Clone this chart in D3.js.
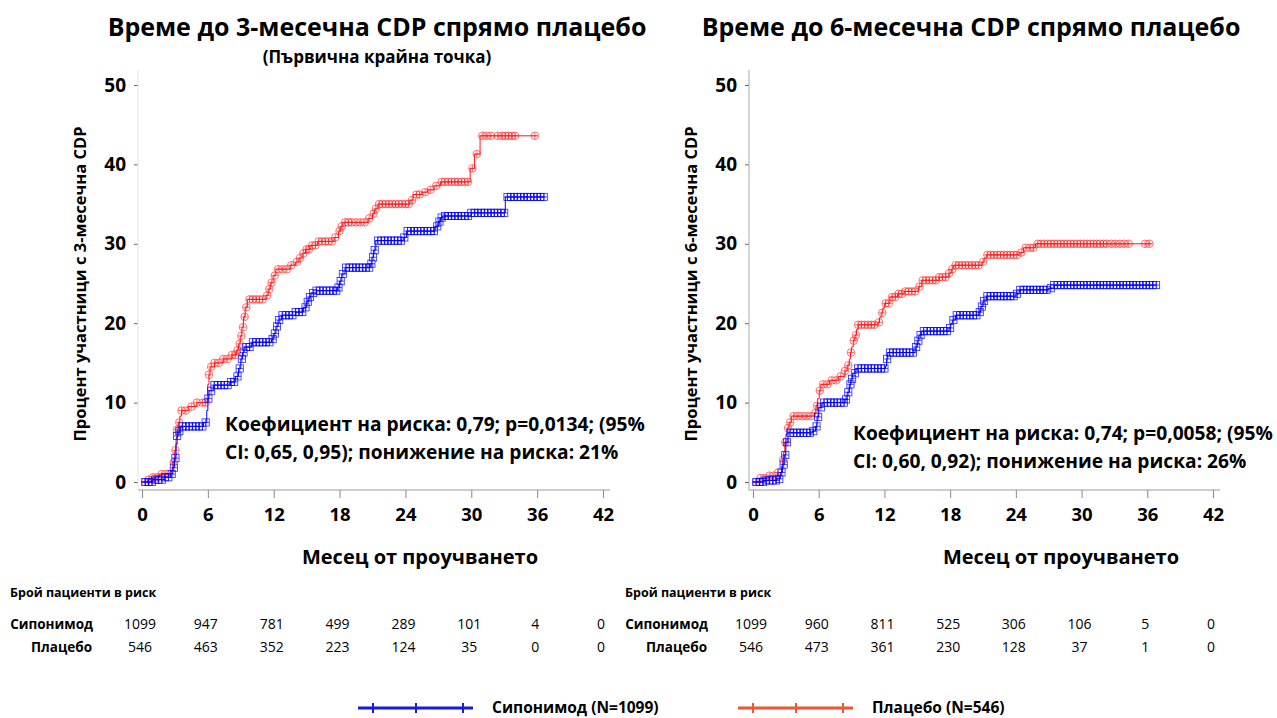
<!DOCTYPE html>
<html>
<head>
<meta charset="utf-8">
<script src="https://cdn.jsdelivr.net/npm/d3@7"></script>
<style>
  body { margin: 0; background: #fff; }
  svg text { font-family: "Open Sans", "Noto Sans", sans-serif; fill: #000; }
</style>
</head>
<body>
<div id="chart"></div>
<script>
// month ticks and percent ticks
var monthTicks = [0, 6, 12, 18, 24, 30, 36, 42];
var pctTicks = [0, 10, 20, 30, 40, 50];

// 3-month CDP curves [month, cumulative %]
var sipo3 = [[0,0],[1.0,0.3],[2.0,0.6],[2.6,1.0],[2.8,1.8],[2.95,3.0],[3.1,4.8],[3.2,5.8],[3.3,6.4],[3.5,7.0],[5.6,7.5],[5.9,9.0],[6.0,10.5],[6.1,11.5],[6.5,12.2],[8.0,12.6],[8.5,13.3],[8.8,14.3],[9.0,15.5],[9.15,16.3],[9.3,17.0],[10.0,17.6],[11.8,18.0],[12.0,18.7],[12.2,19.6],[12.4,20.4],[12.7,21.0],[14.0,21.4],[14.7,22.0],[15.0,22.7],[15.2,23.3],[15.4,23.8],[15.9,24.1],[17.8,24.5],[18.0,25.3],[18.2,26.2],[18.5,27.0],[20.8,27.5],[20.95,28.3],[21.1,29.2],[21.3,30.4],[23.8,30.8],[24.1,31.6],[26.7,32.2],[27.0,32.8],[27.2,33.3],[27.4,33.5],[30.0,33.9],[33.1,35.9],[36.7,35.9]];
var plac3 = [[0,0],[0.5,0.3],[0.9,0.6],[1.6,1.0],[2.6,1.5],[2.8,2.5],[2.95,4.0],[3.1,5.5],[3.2,6.6],[3.3,7.5],[3.45,8.3],[3.6,9.0],[4.2,9.5],[5.0,10.0],[5.95,11.0],[6.0,12.3],[6.1,13.5],[6.2,14.5],[6.6,15.0],[7.4,15.5],[8.2,16.0],[8.6,16.6],[8.8,17.4],[8.95,18.4],[9.1,19.5],[9.25,20.8],[9.4,22.0],[9.6,23.0],[11.3,23.5],[11.5,24.3],[11.7,25.1],[11.95,26.0],[12.2,26.8],[13.5,27.3],[14.0,27.7],[14.3,28.2],[14.6,28.8],[14.9,29.3],[15.3,29.8],[16.0,30.3],[17.5,30.8],[17.9,31.6],[18.1,32.2],[18.3,32.7],[20.6,33.2],[21.0,33.8],[21.2,34.4],[21.5,35.0],[24.4,35.5],[24.7,36.2],[25.5,36.5],[26.0,36.8],[26.6,37.3],[27.2,37.8],[29.9,39.5],[30.3,41.3],[30.8,43.6],[36.0,43.6]];

// 6-month CDP curves
var sipo6 = [[0,0],[1.0,0.2],[2.2,0.4],[2.5,1.2],[2.7,2.2],[2.85,3.4],[3.0,5.0],[3.2,6.2],[5.4,6.4],[5.7,7.0],[5.85,8.2],[6.0,9.4],[6.3,10.0],[8.4,10.4],[8.6,11.3],[8.8,12.3],[8.95,13.0],[9.1,13.7],[9.4,14.3],[12.1,14.6],[12.2,15.5],[12.3,16.3],[14.8,17.0],[15.0,17.8],[15.15,18.5],[15.4,19.0],[17.9,19.4],[18.05,19.9],[18.2,20.4],[18.5,21.0],[20.6,21.4],[20.8,22.1],[21.0,22.8],[21.3,23.4],[24.0,23.7],[24.3,24.2],[27.0,24.4],[27.5,24.8],[36.8,24.8]];
var plac6 = [[0,0],[0.6,0.5],[1.5,0.8],[2.3,1.2],[2.6,2.0],[2.7,2.8],[2.8,3.8],[2.9,5.0],[3.0,6.0],[3.15,6.8],[3.3,7.5],[3.5,8.3],[5.6,8.7],[5.75,9.6],[5.9,10.5],[6.05,11.5],[6.2,12.3],[7.0,12.8],[7.8,13.3],[8.4,14.0],[8.6,14.7],[8.8,15.5],[8.9,16.3],[9.0,17.0],[9.15,17.8],[9.3,18.5],[9.45,19.2],[9.6,19.8],[11.4,20.1],[11.55,20.7],[11.7,21.3],[11.85,21.9],[12.0,22.5],[12.5,23.3],[13.2,23.7],[13.8,24.0],[15.1,24.6],[15.4,25.4],[17.0,25.8],[17.9,26.3],[18.1,26.8],[18.3,27.3],[20.9,27.7],[21.1,28.2],[21.3,28.6],[24.3,28.9],[24.7,29.5],[25.8,30.0],[36.4,30.0]];

// censoring times (months)
var sipo3Cens = [0.3,0.6,0.9,1.2,1.5,1.8,2.1,2.4,2.7,2.9,3.05,3.2,3.4,3.7,4.0,4.3,4.6,4.9,5.2,5.5,5.8,6.05,6.3,6.6,6.9,7.2,7.5,7.8,8.1,8.4,8.7,8.9,9.1,9.25,9.5,9.8,10.1,10.4,10.7,11.0,11.3,11.6,11.9,12.1,12.3,12.5,12.8,13.1,13.4,13.7,14.0,14.3,14.6,14.9,15.1,15.3,15.6,15.9,16.2,16.5,16.8,17.1,17.4,17.7,17.9,18.1,18.3,18.6,18.9,19.2,19.5,19.8,20.1,20.4,20.7,20.9,21.05,21.2,21.5,21.8,22.1,22.4,22.7,23.0,23.3,23.6,23.9,24.2,24.5,24.8,25.1,25.4,25.7,26.0,26.3,26.6,26.9,27.1,27.3,27.6,27.9,28.2,28.5,28.8,29.1,29.4,29.7,30.0,30.3,30.6,30.9,31.2,31.5,31.8,32.1,32.4,32.7,33.0,33.3,33.6,33.9,34.2,34.5,34.8,35.1,35.4,35.7,36.0,36.3,36.6];
var plac3Cens = [0.3,0.6,1.0,1.4,1.8,2.2,2.9,3.05,3.2,3.4,3.6,4.0,4.5,5.0,5.5,5.8,6.1,6.3,6.6,7.0,7.4,7.8,8.2,8.5,8.7,8.9,9.05,9.2,9.35,9.5,9.8,10.1,10.4,10.7,11.0,11.4,11.6,11.8,12.1,12.4,12.8,13.2,13.6,14.1,14.4,14.7,15.0,15.2,15.5,15.8,16.1,16.4,16.7,17.0,17.3,17.6,18.0,18.2,18.5,18.8,19.1,19.5,19.9,20.3,20.7,21.1,21.3,21.6,21.9,22.2,22.5,22.8,23.1,23.4,23.7,24.0,24.3,24.6,25.0,25.3,25.8,26.3,26.8,27.3,27.6,27.9,28.2,28.5,28.8,29.1,29.4,29.7,30.1,30.5,31.0,31.4,31.8,32.4,32.8,33.1,33.4,33.7,34.0,35.8];
var sipo6Cens = [0.3,0.6,0.9,1.2,1.5,1.8,2.1,2.4,2.6,2.8,2.95,3.1,3.4,3.7,4.0,4.3,4.6,4.9,5.2,5.5,5.8,5.95,6.2,6.5,6.8,7.1,7.4,7.7,8.0,8.3,8.5,8.7,8.9,9.05,9.3,9.6,9.9,10.2,10.5,10.8,11.1,11.4,11.7,12.0,12.25,12.5,12.8,13.1,13.4,13.7,14.0,14.3,14.6,14.9,15.1,15.3,15.6,15.9,16.2,16.5,16.8,17.1,17.4,17.7,18.0,18.3,18.6,18.9,19.2,19.5,19.8,20.1,20.4,20.7,20.9,21.1,21.4,21.7,22.0,22.3,22.6,22.9,23.2,23.5,23.8,24.1,24.4,24.7,25.0,25.3,25.6,25.9,26.2,26.5,26.8,27.2,27.5,27.8,28.1,28.4,28.7,29.0,29.3,29.6,29.9,30.2,30.5,30.8,31.1,31.4,31.7,32.0,32.3,32.6,32.9,33.2,33.5,33.8,34.1,34.4,34.7,35.0,35.3,35.6,35.9,36.2,36.5,36.8];
var plac6Cens = [0.3,0.7,1.1,1.5,1.9,2.3,2.75,2.95,3.2,3.4,3.7,4.1,4.5,4.9,5.3,5.7,5.85,6.1,6.4,6.8,7.2,7.6,8.0,8.4,8.7,8.95,9.2,9.4,9.6,9.9,10.2,10.5,10.8,11.1,11.5,11.8,12.1,12.4,12.7,13.0,13.3,13.6,13.9,14.2,14.5,14.8,15.2,15.5,15.8,16.1,16.4,16.7,17.0,17.3,17.6,17.9,18.2,18.5,18.8,19.1,19.4,19.7,20.0,20.3,20.6,21.0,21.4,21.7,22.0,22.3,22.6,22.9,23.2,23.5,23.8,24.1,24.5,24.9,25.3,25.6,26.0,26.3,26.6,26.9,27.2,27.5,27.8,28.1,28.4,28.7,29.0,29.3,29.6,29.9,30.2,30.5,30.8,31.1,31.4,31.7,32.0,32.3,32.7,33.1,33.5,33.9,34.3,35.8,36.2];

// numbers at risk
var riskSipo3 = [1099, 947, 781, 499, 289, 101, 4, 0];
var riskPlac3 = [546, 463, 352, 223, 124, 35, 0, 0];
var riskSipo6 = [1099, 960, 811, 525, 306, 106, 5, 0];
var riskPlac6 = [546, 473, 361, 230, 128, 37, 1, 0];

var BLUE = "#0000ff";
var RED = "#ff1a1a";

var svg = d3.select("#chart")
            .append("svg")
            .attr("width", 1277)
            .attr("height", 718);

// value of a step curve at month t
function stepAt(curve, t) {
  var i = d3.bisector(function(d) { return d[0]; }).right(curve, t) - 1;
  return curve[Math.max(0, i)][1];
}

function panel(cfg) {
  var x = d3.scaleLinear().domain([0, 42]).range([cfg.x0, cfg.x1]);
  var y = d3.scaleLinear().domain([0, 50]).range([482, 85]);
  var g = svg.append("g");

  // titles
  g.append("text")
   .attr("x", cfg.titleX).attr("y", 36)
   .attr("text-anchor", "middle")
   .style("font-size", "25px").style("font-weight", "bold")
   .text(cfg.title);
  if (cfg.subtitle) {
    g.append("text")
     .attr("x", cfg.titleX).attr("y", 63)
     .attr("text-anchor", "middle")
     .style("font-size", "17px").style("font-weight", "bold")
     .text(cfg.subtitle);
  }

  // x axis
  var xAxis = g.append("g")
               .attr("transform", "translate(0,490)")
               .call(d3.axisBottom(x).tickValues(monthTicks).tickSize(8).tickPadding(10));
  xAxis.select(".domain").remove();
  xAxis.selectAll("line").attr("stroke", "#888");
  xAxis.selectAll("text").style("font-size", "18.5px").style("font-weight", "bold");
  g.append("line")
   .attr("x1", cfg.x0 - 4).attr("x2", cfg.x1 + 7)
   .attr("y1", 490).attr("y2", 490)
   .attr("stroke", "#999");

  // y axis
  var yAxis = g.append("g")
               .attr("transform", "translate(" + (cfg.x0 - 4) + ",0)")
               .call(d3.axisLeft(y).tickValues(pctTicks).tickSize(4).tickPadding(8));
  yAxis.select(".domain").remove();
  yAxis.selectAll("line").attr("stroke", "#666");
  yAxis.selectAll("text").style("font-size", "19px").style("font-weight", "bold");
  g.append("line")
   .attr("x1", cfg.x0 - 4).attr("x2", cfg.x0 - 4)
   .attr("y1", 70).attr("y2", 490)
   .attr("stroke", cfg.yLineColor);

  // axis labels
  g.append("text")
   .attr("transform", "translate(" + cfg.yLabelX + ",284) rotate(-90)")
   .attr("text-anchor", "middle")
   .style("font-size", "16.5px").style("font-weight", "bold")
   .text(cfg.yLabel);
  g.append("text")
   .attr("x", cfg.xLabelX).attr("y", 564)
   .attr("text-anchor", "middle")
   .style("font-size", "20px").style("font-weight", "bold")
   .text("Месец от проучването");

  // curves
  var line = d3.line()
               .x(function(d) { return x(d[0]); })
               .y(function(d) { return y(d[1]); })
               .curve(d3.curveStepAfter);

  drawCurve(g, cfg.plac, cfg.placCens, RED, "circle", x, y, line);
  drawCurve(g, cfg.sipo, cfg.sipoCens, BLUE, "square", x, y, line);

  // hazard ratio text
  g.append("text")
   .attr("x", cfg.noteX).attr("y", cfg.noteY)
   .style("font-size", "19.2px").style("font-weight", "bold")
   .text(cfg.note1);
  g.append("text")
   .attr("x", cfg.noteX).attr("y", cfg.noteY + 28)
   .style("font-size", "19.2px").style("font-weight", "bold")
   .text(cfg.note2);

  // numbers at risk
  g.append("text")
   .attr("x", cfg.tableX).attr("y", 597)
   .style("font-size", "12.5px").style("font-weight", "bold")
   .text("Брой пациенти в риск");
  g.append("text")
   .attr("x", cfg.tableX + 83).attr("y", 629)
   .attr("text-anchor", "end")
   .style("font-size", "13.5px").style("font-weight", "bold")
   .text("Сипонимод");
  g.append("text")
   .attr("x", cfg.tableX + 82).attr("y", 652)
   .attr("text-anchor", "end")
   .style("font-size", "13.5px").style("font-weight", "bold")
   .text("Плацебо");
  g.selectAll(".rs")
   .data(cfg.riskSipo)
   .enter().append("text")
   .attr("x", function(d, i) { return x(monthTicks[i]) - 2; })
   .attr("y", 629)
   .attr("text-anchor", "middle")
   .style("font-size", "14px")
   .text(function(d) { return d; });
  g.selectAll(".rp")
   .data(cfg.riskPlac)
   .enter().append("text")
   .attr("x", function(d, i) { return x(monthTicks[i]) - 2; })
   .attr("y", 652)
   .attr("text-anchor", "middle")
   .style("font-size", "14px")
   .text(function(d) { return d; });
}

function drawCurve(g, curve, cens, color, shape, x, y, line) {
  g.append("path")
   .datum(curve)
   .attr("d", line)
   .attr("fill", "none")
   .attr("stroke", color)
   .attr("stroke-width", 1);

  var marks = g.selectAll(null)
               .data(cens)
               .enter()
               .append("g")
               .attr("transform", function(t) {
                 return "translate(" + x(t) + "," + y(stepAt(curve, t)) + ")";
               })
               .attr("stroke", color)
               .attr("stroke-width", 0.8)
               .attr("fill", "none")
               .attr("opacity", shape == "circle" ? 0.75 : 0.85);
  if (shape == "circle") {
    marks.append("circle").attr("r", 3.8);
  } else {
    marks.append("rect").attr("x", -3.6).attr("y", -3.6).attr("width", 7.2).attr("height", 7.2);
  }
  marks.append("path").attr("d", "M-3.5,0H3.5M0,-3.5V3.5");
}

panel({
  x0: 142, x1: 603, titleX: 377,
  title: "Време до 3-месечна CDP спрямо плацебо",
  subtitle: "(Първична крайна точка)",
  yLabel: "Процент участници с 3-месечна CDP", yLabelX: 86, xLabelX: 420,
  yLineColor: "#e4e4e4",
  sipo: sipo3, plac: plac3, sipoCens: sipo3Cens, placCens: plac3Cens,
  note1: "Коефициент на риска: 0,79; p=0,0134; (95%",
  note2: "CI: 0,65, 0,95); понижение на риска: 21%",
  noteX: 225, noteY: 431,
  tableX: 10, riskSipo: riskSipo3, riskPlac: riskPlac3
});

panel({
  x0: 753, x1: 1213, titleX: 971,
  title: "Време до 6-месечна CDP спрямо плацебо",
  subtitle: null,
  yLabel: "Процент участници с 6-месечна CDP", yLabelX: 697, xLabelX: 1061,
  yLineColor: "#a8a8a8",
  sipo: sipo6, plac: plac6, sipoCens: sipo6Cens, placCens: plac6Cens,
  note1: "Коефициент на риска: 0,74; p=0,0058; (95%",
  note2: "CI: 0,60, 0,92); понижение на риска: 26%",
  noteX: 853, noteY: 440,
  tableX: 625, riskSipo: riskSipo6, riskPlac: riskPlac6
});

// legend
var legend = [
  { label: "Сипонимод (N=1099)", color: "#1a1adc", x: 358 },
  { label: "Плацебо (N=546)", color: "#f05535", x: 738 }
];
var lg = svg.selectAll(".legend")
            .data(legend)
            .enter()
            .append("g")
            .attr("transform", function(d) { return "translate(" + d.x + ",708)"; });
lg.append("line")
  .attr("x1", 0).attr("x2", 115)
  .attr("stroke", function(d) { return d.color; })
  .attr("stroke-width", 3);
lg.selectAll(".tk")
  .data(function(d) { return [15, 58, 105].map(function(v) { return { v: v, color: d.color }; }); })
  .enter().append("line")
  .attr("x1", function(d) { return d.v; }).attr("x2", function(d) { return d.v; })
  .attr("y1", -5).attr("y2", 5)
  .attr("stroke", function(d) { return d.color; })
  .attr("stroke-width", 2);
lg.append("text")
  .attr("x", 134).attr("y", 5)
  .style("font-size", "15.5px").style("font-weight", "bold")
  .text(function(d) { return d.label; });
</script>
</body>
</html>
